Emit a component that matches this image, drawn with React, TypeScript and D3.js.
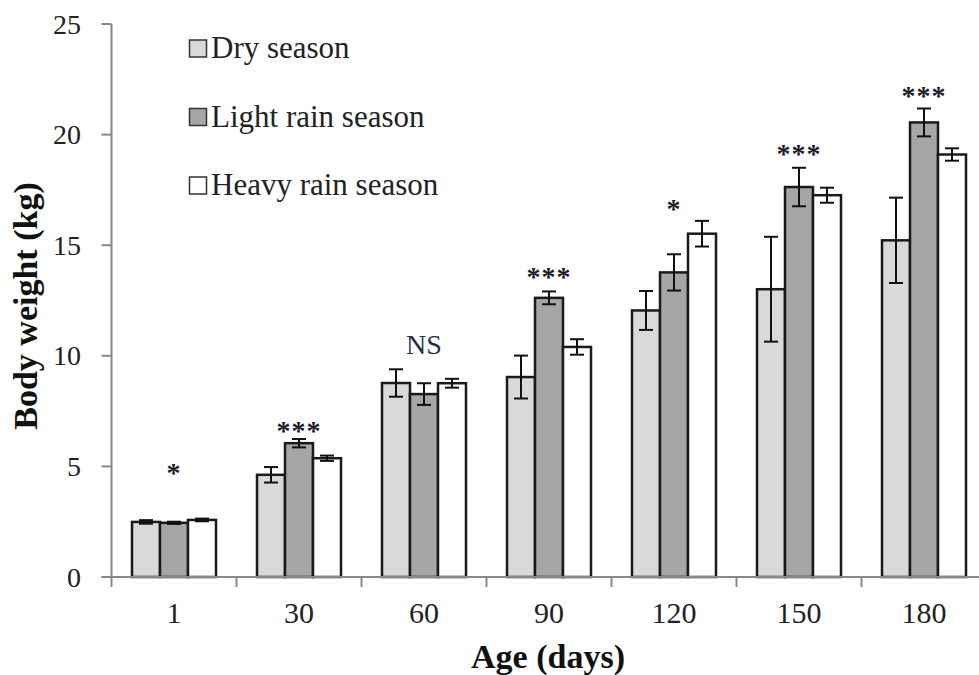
import React from "react";
import * as d3 from "d3";

const categories = ["1", "30", "60", "90", "120", "150", "180"];
const seriesNames = ["Dry season", "Light rain season", "Heavy rain season"];
const dryMean = [2.49, 4.62, 8.77, 9.04, 12.05, 13.01, 15.22];
const dryErr = [0.08, 0.35, 0.62, 0.97, 0.88, 2.37, 1.93];
const lightMean = [2.45, 6.05, 8.27, 12.62, 13.77, 17.63, 20.55];
const lightErr = [0.05, 0.19, 0.49, 0.29, 0.82, 0.87, 0.63];
const heavyMean = [2.58, 5.37, 8.76, 10.4, 15.52, 17.26, 19.1];
const heavyErr = [0.06, 0.12, 0.2, 0.35, 0.58, 0.34, 0.28];
const sigLabels = ["*", "***", "NS", "***", "*", "***", "***"];
const sigPos = [5.03, 6.93, 10.55, 13.86, 16.94, 19.43, 22.06];
const yTicks = [0, 5, 10, 15, 20, 25];

const fills = ["#d9d9d9", "#a6a6a6", "#ffffff"];
const FONT = "Liberation Serif";
const ts = { fontFamily: FONT } as React.CSSProperties;

export default function App() {
  const W = 979;
  const H = 675;
  const x0 = 111.5;
  const bandW = 125;
  const x = d3
    .scaleBand<string>()
    .domain(categories)
    .range([x0, x0 + bandW * categories.length])
    .padding(0);
  const inner = d3
    .scaleBand<string>()
    .domain(seriesNames)
    .range([20.5, 104.5])
    .padding(0);
  const y = d3.scaleLinear().domain([0, 25]).range([577, 24]);

  const means = [dryMean, lightMean, heavyMean];
  const errs = [dryErr, lightErr, heavyErr];
  const axisColor = "#888888";

  return (
    <svg
      width={W}
      height={H}
      style={{ position: "absolute", left: 0, top: 0, background: "#fff", fontFamily: FONT }}
    >
      <rect x={0} y={0} width={W} height={H} fill="#fff" />
      {categories.map((c, ci) =>
        seriesNames.map((s, si) => {
          const bx = (x(c) as number) + (inner(s) as number);
          const bw = inner.bandwidth();
          const v = means[si][ci];
          return (
            <rect
              key={c + s}
              x={bx}
              y={y(v)}
              width={bw}
              height={y(0) - y(v)}
              fill={fills[si]}
              stroke="#1a1a1a"
              strokeWidth={2.5}
            />
          );
        })
      )}
      {categories.map((c, ci) =>
        seriesNames.map((s, si) => {
          const cx = (x(c) as number) + (inner(s) as number) + inner.bandwidth() / 2;
          const v = means[si][ci];
          const e = errs[si][ci];
          const yt = y(v + e);
          const yb = y(v - e);
          return (
            <g key={"e" + c + s} stroke="#111" strokeWidth={2}>
              <line x1={cx} x2={cx} y1={yt} y2={yb} />
              <line x1={cx - 7} x2={cx + 7} y1={yt} y2={yt} />
              <line x1={cx - 7} x2={cx + 7} y1={yb} y2={yb} />
            </g>
          );
        })
      )}
      <line x1={x0} x2={x0} y1={y(25)} y2={y(0)} stroke={axisColor} strokeWidth={2} />
      <line x1={x0 - 10} x2={W} y1={y(0)} y2={y(0)} stroke={axisColor} strokeWidth={2} />
      {yTicks.map((t) => (
        <g key={"yt" + t}>
          <line x1={x0 - 10} x2={x0} y1={y(t)} y2={y(t)} stroke={axisColor} strokeWidth={2} />
          <text
            x={81}
            y={y(t) + 9.5}
            textAnchor="end"
            fontSize={28}
            fill="#222"
            style={ts}
          >
            {t}
          </text>
        </g>
      ))}
      {categories.map((c) => (
        <line
          key={"xt" + c}
          x1={x(c) as number}
          x2={x(c) as number}
          y1={y(0)}
          y2={y(0) + 10}
          stroke={axisColor}
          strokeWidth={2}
        />
      ))}
      {categories.map((c) => (
        <text
          key={"xl" + c}
          x={(x(c) as number) + x.bandwidth() / 2}
          y={623}
          textAnchor="middle"
          fontSize={30}
          fill="#222"
          style={ts}
        >
          {c}
        </text>
      ))}
      {categories.map((c, ci) => {
        const cx = (x(c) as number) + x.bandwidth() / 2;
        const lab = sigLabels[ci];
        const isNS = lab === "NS";
        return (
          <text
            key={"s" + c}
            x={cx}
            y={y(sigPos[ci]) + (isNS ? 10 : 16)}
            textAnchor="middle"
            fontSize={28}
            fill={isNS ? "#1f2d4d" : "#1a1a2a"}
            fontWeight={isNS ? "normal" : "bold"}
            letterSpacing={isNS ? 0 : 1}
            style={ts}
          >
            {lab}
          </text>
        );
      })}
      <text
        x={548}
        y={668}
        textAnchor="middle"
        fontSize={34}
        fontWeight="bold"
        fill="#111"
        style={ts}
      >
        Age (days)
      </text>
      <text
        transform={`translate(37,${306}) rotate(-90)`}
        textAnchor="middle"
        fontSize={34}
        fontWeight="bold"
        fill="#111"
        style={ts}
      >
        Body weight (kg)
      </text>
      {seriesNames.map((s, si) => {
        const cy = 48.5 + si * 68.5;
        return (
          <g key={"lg" + s}>
            <rect
              x={189.5}
              y={cy - 8.5}
              width={17}
              height={17}
              fill={fills[si]}
              stroke="#333"
              strokeWidth={1.5}
            />
            <text x={211} y={cy + 9.5} fontSize={31} fill="#222" style={ts}>
              {s}
            </text>
          </g>
        );
      })}
    </svg>
  );
}
